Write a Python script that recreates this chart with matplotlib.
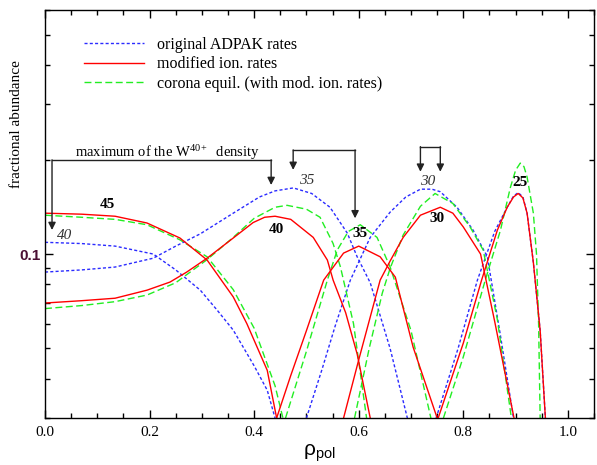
import matplotlib
matplotlib.use("Agg")
import matplotlib.pyplot as plt
from matplotlib.ticker import LogLocator, NullFormatter, FixedLocator, MultipleLocator

plt.rcParams['font.family'] = ['Liberation Serif', 'DejaVu Serif']
plt.rcParams['mathtext.fontset'] = 'custom'
plt.rcParams['mathtext.rm'] = 'Liberation Serif'
plt.rcParams['mathtext.it'] = 'Liberation Serif:italic'

# original ADPAK rates (blue)
ads_x40 = [0, 0.07, 0.134, 0.207, 0.25, 0.297, 0.33, 0.36, 0.40, 0.425, 0.44]
ads_y40 = [0.109, 0.108, 0.106, 0.100, 0.089, 0.0767, 0.066, 0.0572, 0.044, 0.0368, 0.030]
ads_x35 = [0, 0.07, 0.134, 0.207, 0.25, 0.297, 0.36, 0.41, 0.44, 0.475, 0.51, 0.545, 0.578, 0.597, 0.622, 0.66, 0.693]
ads_y35 = [0.0876, 0.089, 0.0909, 0.097, 0.106, 0.116, 0.135, 0.152, 0.159, 0.1625, 0.156, 0.141, 0.1167, 0.098, 0.081, 0.05, 0.030]
ads_x30 = [0.50, 0.53, 0.555, 0.584, 0.622, 0.66, 0.69, 0.718, 0.74, 0.756, 0.788, 0.819, 0.846, 0.871, 0.896]
ads_y30 = [0.03, 0.043, 0.059, 0.0826, 0.113, 0.136, 0.152, 0.161, 0.161, 0.158, 0.141, 0.119, 0.098, 0.055, 0.03]
ads_x25 = [0.748, 0.79, 0.827, 0.86, 0.884, 0.896, 0.905, 0.914, 0.922, 0.934, 0.947, 0.957]
ads_y25 = [0.03, 0.05, 0.0826, 0.118, 0.141, 0.153, 0.157, 0.152, 0.135, 0.094, 0.057, 0.03]

# modified ionisation rates (red)
mod_x45 = [0, 0.07, 0.134, 0.195, 0.258, 0.31, 0.36, 0.386, 0.425, 0.443]
mod_y45 = [0.135, 0.134, 0.132, 0.1256, 0.1125, 0.0957, 0.073, 0.060, 0.0426, 0.03]
mod_x40 = [0, 0.07, 0.134, 0.195, 0.239, 0.271, 0.31, 0.36, 0.398, 0.42, 0.44, 0.47, 0.513, 0.54, 0.551, 0.575, 0.597, 0.622]
mod_y40 = [0.0698, 0.071, 0.0723, 0.0767, 0.0814, 0.0876, 0.097, 0.1125, 0.126, 0.131, 0.132, 0.129, 0.113, 0.0957, 0.0826, 0.065, 0.048, 0.03]
mod_x35 = [0.443, 0.47, 0.50, 0.533, 0.571, 0.60, 0.641, 0.67, 0.704, 0.75]
mod_y35 = [0.03, 0.041, 0.057, 0.0826, 0.1007, 0.106, 0.098, 0.0844, 0.0505, 0.03]
mod_x30 = [0.571, 0.60, 0.641, 0.66, 0.685, 0.718, 0.756, 0.78, 0.80, 0.833, 0.86, 0.897]
mod_y30 = [0.03, 0.046, 0.0826, 0.095, 0.113, 0.133, 0.141, 0.135, 0.122, 0.1, 0.061, 0.03]
mod_x25 = [0.752, 0.80, 0.835, 0.865, 0.884, 0.896, 0.905, 0.914, 0.922, 0.934, 0.947, 0.957]
mod_y25 = [0.03, 0.052, 0.0826, 0.119, 0.141, 0.152, 0.156, 0.151, 0.135, 0.094, 0.057, 0.03]

# corona equilibrium with modified rates (green)
cor_x45 = [0, 0.07, 0.134, 0.195, 0.258, 0.31, 0.36, 0.40, 0.44, 0.455]
cor_y45 = [0.133, 0.131, 0.129, 0.124, 0.111, 0.098, 0.077, 0.058, 0.038, 0.03]
cor_x40 = [0, 0.07, 0.134, 0.195, 0.25, 0.31, 0.36, 0.40, 0.44, 0.463, 0.50, 0.526, 0.551, 0.565, 0.59, 0.615]
cor_y40 = [0.067, 0.0685, 0.0705, 0.074, 0.081, 0.096, 0.113, 0.130, 0.141, 0.143, 0.139, 0.131, 0.108, 0.091, 0.06, 0.03]
cor_x35 = [0.46, 0.50, 0.54, 0.559, 0.58, 0.603, 0.635, 0.66, 0.70, 0.738]
cor_y35 = [0.03, 0.049, 0.0826, 0.103, 0.118, 0.124, 0.113, 0.091, 0.057, 0.03]
cor_x30 = [0.592, 0.62, 0.645, 0.66, 0.685, 0.718, 0.746, 0.78, 0.813, 0.838, 0.865, 0.892]
cor_y30 = [0.03, 0.05, 0.075, 0.09, 0.115, 0.142, 0.156, 0.145, 0.122, 0.103, 0.062, 0.03]
cor_x25 = [0.762, 0.80, 0.842, 0.871, 0.89, 0.90, 0.909, 0.916, 0.922, 0.934, 0.94, 0.944, 0.947]
cor_y25 = [0.03, 0.047, 0.0826, 0.119, 0.163, 0.185, 0.195, 0.19, 0.176, 0.135, 0.1, 0.06, 0.03]

# charge state labels: bold = modified, italic = ADPAK
bold_labels = ['45', '40', '35', '30', '25']
bold_x = [0.119, 0.442, 0.603, 0.75, 0.909]
bold_y = [0.1434, 0.120, 0.1167, 0.130, 0.169]
ital_labels = ['40', '35', '30']
ital_x = [0.038, 0.50, 0.731]
ital_y = [0.115, 0.171, 0.170]

fig = plt.figure(figsize=(5.97, 4.65), dpi=100)
ax = fig.add_axes([0.0754, 0.101, 0.9196, 0.8775])

blue = dict(color='#2b2bff', lw=1.0, dashes=(2.2, 1.6))
red = dict(color='#ff0000', lw=1.0)
green = dict(color='#22ee22', lw=1.0, dashes=(5, 2.5))

hb = None
for xs, ys in [(ads_x40, ads_y40), (ads_x35, ads_y35), (ads_x30, ads_y30), (ads_x25, ads_y25)]:
    hb, = ax.plot(xs, ys, **blue)
hg = None
for xs, ys in [(cor_x45, cor_y45), (cor_x40, cor_y40), (cor_x35, cor_y35), (cor_x30, cor_y30), (cor_x25, cor_y25)]:
    hg, = ax.plot(xs, ys, **green)
hr = None
for xs, ys in [(mod_x45, mod_y45), (mod_x40, mod_y40), (mod_x35, mod_y35), (mod_x30, mod_y30), (mod_x25, mod_y25)]:
    hr, = ax.plot(xs, ys, **red)

ax.set_yscale('log')
ax.set_xlim(0, 1.05)
ax.set_ylim(0.03, 0.6)

for t, x, y in zip(bold_labels, bold_x, bold_y):
    ax.text(x, y, t, fontweight='bold', fontsize=11, ha='center', va='center')
for t, x, y in zip(ital_labels, ital_x, ital_y):
    ax.text(x, y, t, style='italic', fontsize=11, ha='center', va='center', color='#333333')

# brackets marking the maximum of W40+
arrow_kw = dict(arrowstyle='-|>', color='#222222', lw=1.0, shrinkA=0, shrinkB=0, mutation_scale=11)
brackets = [((0.0134, 0.4325), 0.1997, (0.1193, 0.166)),
            ((0.4746, 0.593), 0.2148, (0.1855, 0.130)),
            ((0.718, 0.756), 0.22, (0.183, 0.183))]
for (xa, xb), yh, (ya, yb) in brackets:
    ax.plot([xa, xb], [yh, yh], color='#222222', lw=1.0)
    ax.annotate('', xy=(xa, ya), xytext=(xa, yh), arrowprops=arrow_kw)
    ax.annotate('', xy=(xb, yb), xytext=(xb, yh), arrowprops=arrow_kw)
ax.text(0.058, 0.204, 'maximum of the W$^{40+}$  density', fontsize=10.5, va='baseline')

ax.legend([hb, hr, hg], ['original ADPAK rates', 'modified ion. rates', 'corona equil. (with mod. ion. rates)'],
          loc='upper left', bbox_to_anchor=(0.045, 0.97), frameon=False, fontsize=11.5,
          handlelength=3.75, handletextpad=0.8, labelspacing=0.22)

ax.xaxis.set_major_locator(MultipleLocator(0.2))
ax.xaxis.set_minor_locator(MultipleLocator(0.05))
ax.set_xticklabels([f'{v:.1f}' for v in ax.get_xticks()])
ax.yaxis.set_major_locator(FixedLocator([0.1]))
ax.yaxis.set_minor_locator(LogLocator(base=10, subs=range(2, 10)))
ax.yaxis.set_minor_formatter(NullFormatter())
ax.set_yticklabels(['0.1'], fontfamily='Liberation Sans', fontweight='bold', color='#4a0f33', fontsize=12)

ax.tick_params(which='both', direction='in', top=True, right=True, width=1.0)
ax.tick_params(which='major', length=6, labelsize=11)
ax.tick_params(which='minor', length=3.5)
ax.tick_params(axis='x', pad=6)
for s in ax.spines.values():
    s.set_linewidth(1.0)

ax.set_xlabel(r'$\mathregular{\rho_{pol}}$', fontfamily='Liberation Sans', fontsize=15, labelpad=2)
fig.text(17 / 597, 1 - 124 / 465, 'fractional abundance', rotation=90, fontsize=11, ha='center', va='center')

fig.savefig('out.png', dpi=100)
